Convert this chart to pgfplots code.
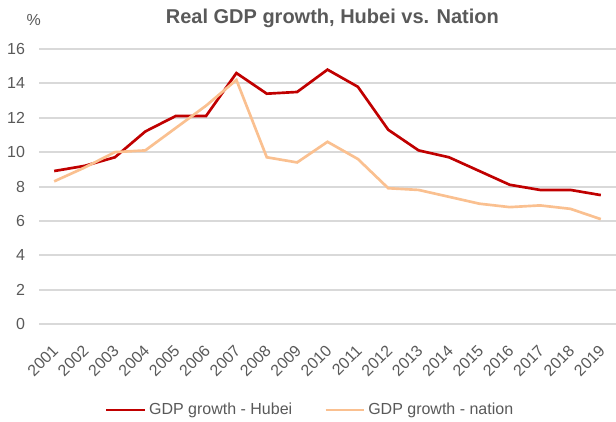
\documentclass[border=0pt]{standalone}
\usepackage{fontspec}
\setmainfont{Liberation Sans}
\usepackage{pgfplots}
\pgfplotsset{compat=1.18}
\definecolor{txtgray}{HTML}{595959}
\definecolor{gridgray}{HTML}{D9D9D9}
\definecolor{hubei}{HTML}{C00000}
\definecolor{nation}{HTML}{FAC090}
\begin{document}
\begin{tikzpicture}
\path[use as bounding box] (-29.25pt,-72.75pt) rectangle (432.75pt,243pt);
\begin{axis}[
  at={(0,0)}, anchor=south west,
  scale only axis, width=432.75pt, height=206.25pt,
  xmin=-0.5, xmax=18.5, ymin=0, ymax=16,
  ytick={0,2,...,16},
  xtick={0,...,18},
  xticklabels={2001,2002,2003,2004,2005,2006,2007,2008,2009,2010,2011,2012,2013,2014,2015,2016,2017,2018,2019},
  minor xtick={-0.5,0.5,...,18.5},
  xtick align=outside,
  minor tick length=3pt,
  major tick length=0pt,
  axis x line=bottom, axis y line=left,
  x axis line style={-, gridgray, line width=1.5pt},
  y axis line style={draw=none},
  minor x tick style={gridgray, line width=1.2pt},
  ytick style={draw=none}, xtick style={draw=none},
  ymajorgrids, grid style={gridgray, line width=1.5pt},
  tick label style={font=\fontsize{12}{14}\selectfont, text=txtgray},
  /pgf/number format/assume math mode=true,
  yticklabel style={xshift=-7pt},
  xticklabel style={rotate=45, anchor=north east, inner sep=1pt, yshift=-8pt, xshift=-11pt},
  legend style={at={(axis description cs:0.4705,-0.3127)}, anchor=center, draw=none, fill=none,
    legend columns=2, font=\fontsize{12}{14}\selectfont, text=txtgray,
    nodes={inner xsep=2pt},
    /tikz/every even column/.append style={column sep=22pt}},
  legend image code/.code={\draw[#1] (0pt,0pt) -- (29pt,0pt);},
  clip=false,
]
\addplot[hubei, line width=2pt] coordinates {
(0,8.9) (1,9.2) (2,9.7) (3,11.2) (4,12.1) (5,12.1) (6,14.6) (7,13.4) (8,13.5) (9,14.8)
(10,13.8) (11,11.3) (12,10.1) (13,9.7) (14,8.9) (15,8.1) (16,7.8) (17,7.8) (18,7.5)};
\addlegendentry{GDP growth - Hubei}
\addplot[nation, line width=2pt] coordinates {
(0,8.3) (1,9.1) (2,10.0) (3,10.1) (4,11.4) (5,12.7) (6,14.2) (7,9.7) (8,9.4) (9,10.6)
(10,9.6) (11,7.9) (12,7.8) (13,7.4) (14,7.0) (15,6.8) (16,6.9) (17,6.7) (18,6.1)};
\addlegendentry{GDP growth - nation}
\end{axis}
\node[font=\bfseries\fontsize{15}{18}\selectfont, text=txtgray] at (220pt,229.5pt) {Real GDP growth, Hubei vs. Nation};
\node[font=\fontsize{12}{14}\selectfont, text=txtgray] at (-4pt,228pt) {\%};
\end{tikzpicture}
\end{document}
